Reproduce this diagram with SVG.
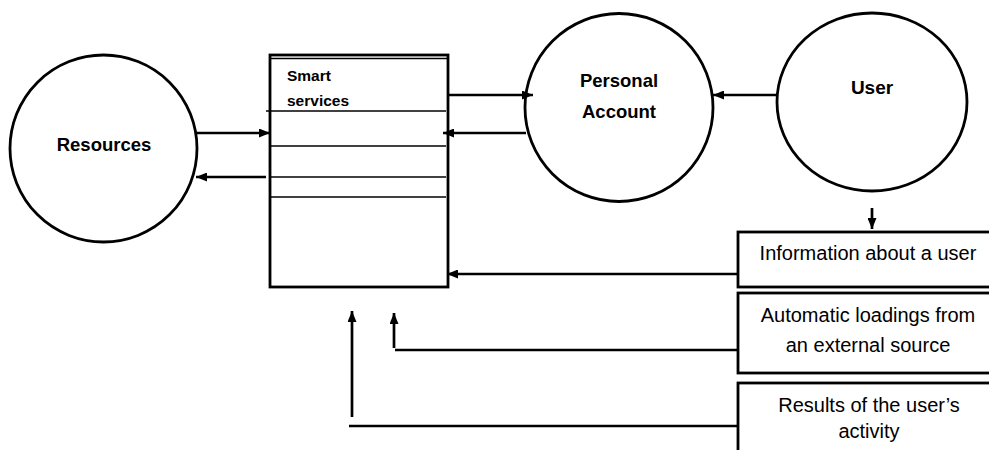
<svg xmlns="http://www.w3.org/2000/svg" width="989" height="450" viewBox="0 0 989 450">
<defs>
<marker id="arr" markerUnits="userSpaceOnUse" markerWidth="11" markerHeight="9" refX="11" refY="4.5" orient="auto">
<path d="M0,0 L11,4.5 L0,9 z" fill="#000"/>
</marker>
<style>
.shape{fill:#fff;stroke:#000;stroke-width:2.8}
.thin{stroke:#000;stroke-width:1.5;fill:none}
.conn{stroke:#000;stroke-width:2.7;fill:none}
.bold{font-family:"Liberation Sans",Arial,sans-serif;font-weight:bold;fill:#000}
.reg{font-family:"Liberation Sans",Arial,sans-serif;font-size:20px;fill:#000;text-anchor:middle}
</style>
</defs>
<rect width="989" height="450" fill="#fff"/>

<g id="resources">
<circle class="shape" cx="103.5" cy="148.5" r="93.5"/>
<text class="bold" x="104" y="151" font-size="18.5" text-anchor="middle">Resources</text>
</g>

<g id="smart-services">
<rect class="shape" x="270" y="55" width="178" height="232"/>
<line class="thin" x1="270" y1="58.5" x2="448" y2="58.5" stroke-width="1"/>
<line class="thin" x1="266" y1="111" x2="446" y2="111"/>
<line class="thin" x1="270" y1="146" x2="446" y2="146"/>
<line class="thin" x1="270" y1="177" x2="446" y2="177"/>
<line class="thin" x1="270" y1="197" x2="446" y2="197"/>
<text class="bold" x="287" y="81" font-size="15.5">Smart</text>
<text class="bold" x="287" y="106" font-size="15.5">services</text>
</g>

<g id="personal-account">
<circle class="shape" cx="619" cy="107.5" r="94"/>
<text class="bold" x="619" y="87" font-size="18.5" text-anchor="middle">Personal</text>
<text class="bold" x="619" y="118" font-size="18.5" text-anchor="middle">Account</text>
</g>

<g id="user">
<ellipse class="shape" cx="872" cy="102" rx="95" ry="89"/>
<text class="bold" x="872" y="94" font-size="19" text-anchor="middle">User</text>
</g>

<g id="info-user">
<rect class="shape" x="738" y="232" width="260" height="55"/>
<text class="reg" x="868" y="260">Information about a user</text>
</g>

<g id="auto-loadings">
<rect class="shape" x="738" y="293" width="260" height="80"/>
<text class="reg" x="868" y="322">Automatic loadings from</text>
<text class="reg" x="868" y="352">an external source</text>
</g>

<g id="results-activity">
<rect class="shape" x="738" y="383" width="260" height="80"/>
<text class="reg" x="869" y="412">Results of the user’s</text>
<text class="reg" x="869" y="438">activity</text>
</g>

<g id="connectors">
<line class="conn" x1="197" y1="133" x2="270" y2="133" marker-end="url(#arr)"/>
<line class="conn" x1="266" y1="177" x2="196" y2="177" marker-end="url(#arr)"/>
<line class="conn" x1="448" y1="95" x2="533" y2="95" marker-end="url(#arr)"/>
<line class="conn" x1="526" y1="133" x2="443" y2="133" marker-end="url(#arr)"/>
<line class="conn" x1="777" y1="95" x2="713" y2="95" marker-end="url(#arr)"/>
<line class="conn" x1="872" y1="208" x2="872" y2="229" marker-end="url(#arr)"/>
<line class="conn" x1="738" y1="274" x2="447" y2="274" marker-end="url(#arr)"/>
<line class="conn" x1="738" y1="350" x2="395" y2="350"/>
<line class="conn" x1="394" y1="348" x2="394" y2="313" marker-end="url(#arr)"/>
<line class="conn" x1="738" y1="426" x2="349" y2="426"/>
<line class="conn" x1="352" y1="417" x2="352" y2="311" marker-end="url(#arr)"/>
</g>
</svg>
